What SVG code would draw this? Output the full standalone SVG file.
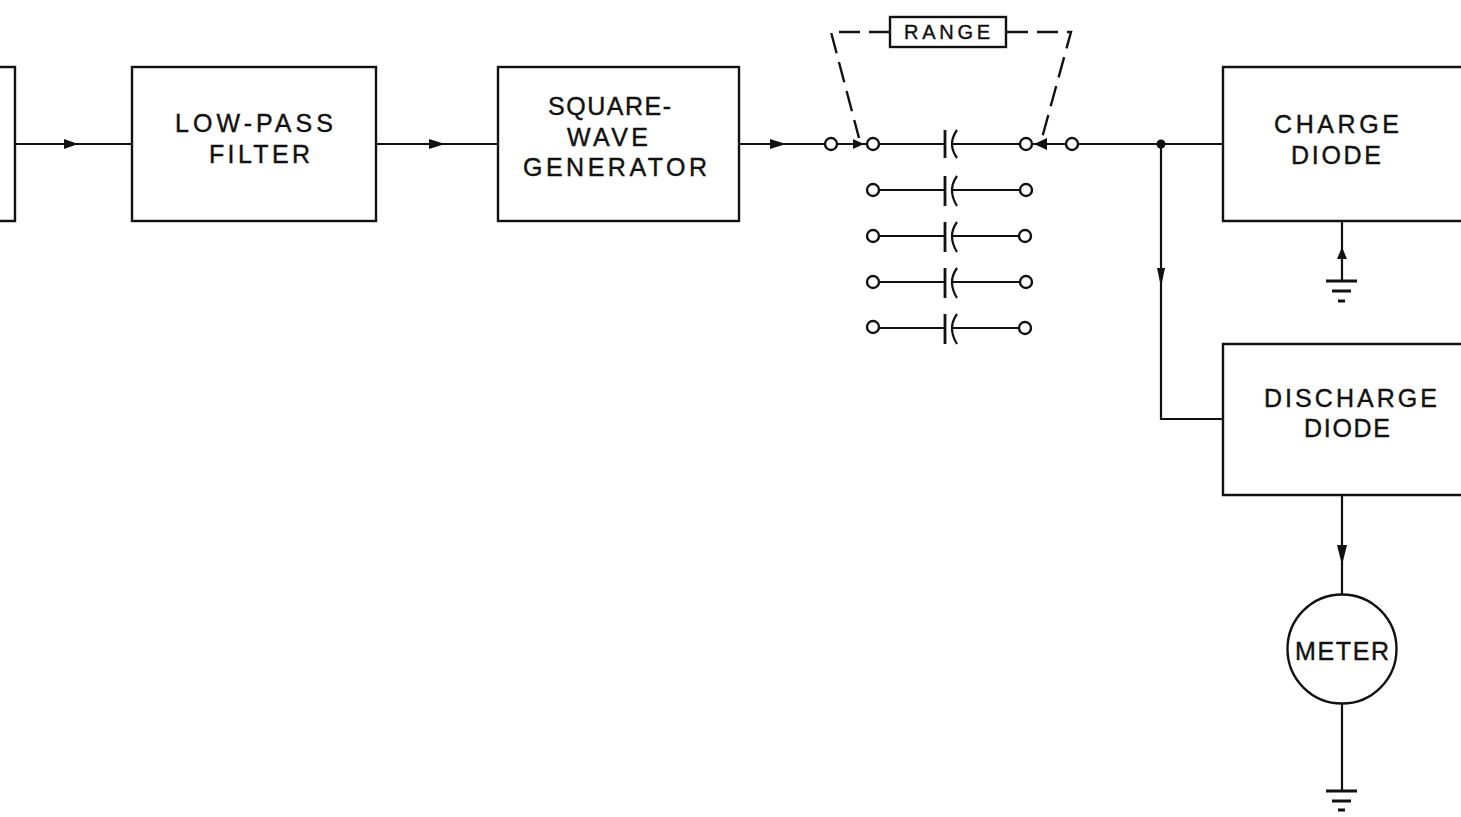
<svg xmlns="http://www.w3.org/2000/svg" width="1461" height="817" viewBox="0 0 1461 817">
<style>
.b{fill:#fff;stroke:#111;stroke-width:2.4}
.w{fill:none;stroke:#111;stroke-width:2.2}
.g{fill:none;stroke:#111;stroke-width:2.8}
.o{fill:#fff;stroke:#111;stroke-width:2.4}
.d{fill:none;stroke:#111;stroke-width:2.4;stroke-dasharray:21 9}
.a{fill:#111;stroke:none}
text{font-family:"Liberation Sans",Arial,sans-serif;fill:#111;stroke:#111;stroke-width:.4;text-anchor:start;font-size:25px}
</style>
<rect width="1461" height="817" fill="#fff"/>
<g id="connectors">
<path class="w" d="M15 144H132M376 144H498M739 144H825M837 144H867"/>
<path class="w" d="M879 144H945M952 144H1020M1032 144H1066M1078 144H1223M1161 144V419H1223"/>
<path class="w" d="M879 190H945M952 190H1020M879 236H945M952 236H1020M879 282H945M952 282H1020M879 328H945M952 328H1020"/>
<path class="w" d="M1342 221V281M1342 495V594M1342 704V791"/>
<path class="g" d="M945 130V158M945 176V206M945 222V252M945 268V298M945 314V344"/>
<path class="w" d="M957 130Q947 144 957 158M957 176Q947 190 957 206M957 222Q947 236 957 252M957 268Q947 282 957 298M957 314Q947 328 957 344"/>
<path class="d" d="M890 32H831L859 138"/>
<path class="d" d="M1007 32H1071L1042 138"/>
<path class="a" d="M78 144L64 139V149ZM445 144L429 139V149ZM786 144L770 139V149ZM864 144L853 139V149ZM1034 144L1047 138V150ZM1161 287L1157 268H1165ZM1342 247L1337 259H1347ZM1342 565L1337 545H1347Z"/>
<circle class="a" cx="1161" cy="144" r="4.5"/>
<path class="g" d="M1326 281H1357M1332 291H1351M1338 301H1345M1326 791H1357M1332 801H1351M1338 810H1345"/>
</g>
<g id="left-block"><path class="b" d="M-5 67H15V221H-5"/></g>
<g id="low-pass-filter"><rect class="b" x="132" y="67" width="244" height="154"/><text x="175" y="132" textLength="158" lengthAdjust="spacing">LOW-PASS</text><text x="209" y="163" textLength="101" lengthAdjust="spacing">FILTER</text></g>
<g id="square-wave-generator"><rect class="b" x="498" y="67" width="241" height="154"/><text x="548" y="115" textLength="123" lengthAdjust="spacing">SQUARE-</text><text x="567" y="146" textLength="81" lengthAdjust="spacing">WAVE</text><text x="523" y="176" textLength="184" lengthAdjust="spacing">GENERATOR</text></g>
<g id="range"><rect class="b" x="890" y="17" width="116" height="30"/><text x="904" y="39" textLength="86" lengthAdjust="spacing" style="font-size:20px">RANGE</text></g>
<g id="contacts">
<circle class="o" cx="831" cy="144" r="6"/><circle class="o" cx="873" cy="144" r="6"/><circle class="o" cx="1026" cy="144" r="6"/><circle class="o" cx="1072" cy="144" r="6"/>
<circle class="o" cx="873" cy="190" r="6"/><circle class="o" cx="1026" cy="190" r="6"/>
<circle class="o" cx="873" cy="236" r="6"/><circle class="o" cx="1025" cy="236" r="6"/>
<circle class="o" cx="873" cy="282" r="6"/><circle class="o" cx="1026" cy="282" r="6"/>
<circle class="o" cx="873" cy="327" r="6"/><circle class="o" cx="1025" cy="328" r="6"/>
</g>
<g id="charge-diode"><path class="b" d="M1466 67H1223V221H1466"/><text x="1274" y="133" textLength="125" lengthAdjust="spacing">CHARGE</text><text x="1291" y="164" textLength="90" lengthAdjust="spacing">DIODE</text></g>
<g id="discharge-diode"><path class="b" d="M1466 344H1223V495H1466"/><text x="1264" y="407" textLength="173" lengthAdjust="spacing">DISCHARGE</text><text x="1304" y="437" textLength="86" lengthAdjust="spacing">DIODE</text></g>
<g id="meter"><circle class="b" cx="1342" cy="649" r="54.5"/><text x="1295" y="660" textLength="94" lengthAdjust="spacing">METER</text></g>
</svg>
